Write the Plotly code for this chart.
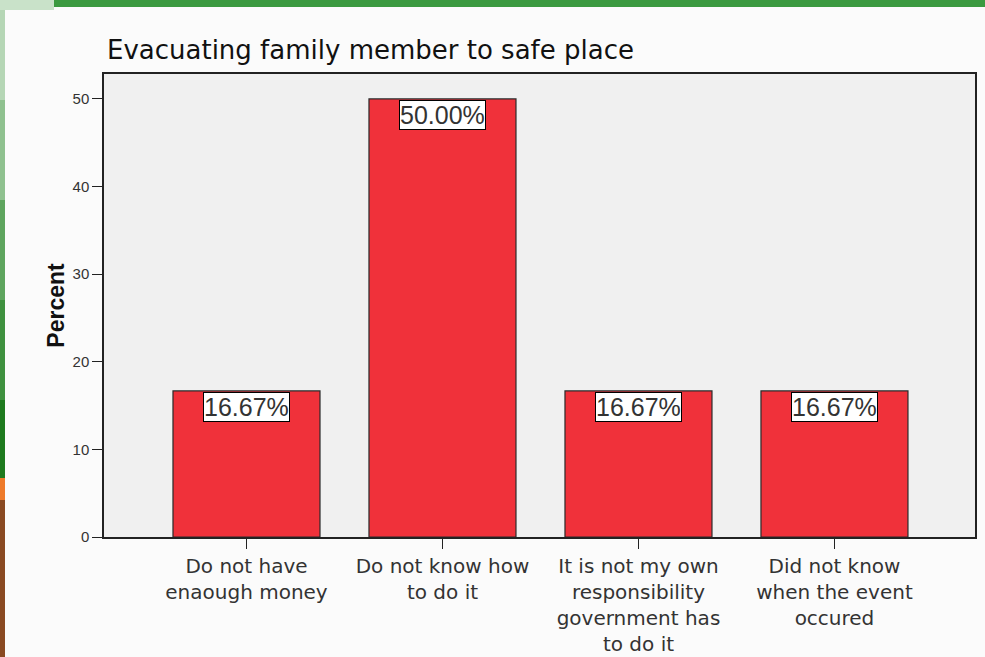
import plotly.graph_objects as go

categories = ["Do not have<br>enaough money", "Do not know how<br>to do it",
              "It is not my own<br>responsibility<br>government has<br>to do it",
              "Did not know<br>when the event<br>occured"]
percent = [16.67, 50.00, 16.67, 16.67]
labels = ["16.67%", "50.00%", "16.67%", "16.67%"]
y_ticks = [0, 10, 20, 30, 40, 50]

x_idx = list(range(len(categories)))

fig = go.Figure()
fig.add_trace(go.Bar(
    x=x_idx, y=percent, width=0.75,
    marker=dict(color="#f0313a", line=dict(color="#2a2a2a", width=1.2)),
    hoverinfo="skip",
))

for xi, v, t in zip(x_idx, percent, labels):
    fig.add_annotation(x=xi, y=v, text=t, showarrow=False, yanchor="top",
                       xanchor="center", yshift=-1,
                       font=dict(family="Liberation Sans, Arial", size=25, color="#333333"),
                       bgcolor="white", bordercolor="black", borderwidth=1, borderpad=0)

# slide decoration
shapes = [
    dict(type="rect", xref="paper", yref="paper", x0=-54/871, x1=1.2, y0=1+74/463, y1=1+67/463,
         fillcolor="#3b9a40", line=dict(width=0), layer="below"),
]
strip = [("#c9e2c9", 0, 10, 0, 54), ("#b5d6b5", 10, 100, 0, 5), ("#8fc18f", 100, 200, 0, 5),
         ("#5ea55e", 200, 300, 0, 5), ("#3f913f", 300, 400, 0, 5), ("#1e7a1e", 400, 478, 0, 5),
         ("#ee7a2a", 478, 500, 0, 5), ("#8a4a22", 500, 657, 0, 5)]
for col, ya, yb, xa, xb in strip:
    shapes.append(dict(type="rect", xref="paper", yref="paper",
                       x0=(xa - 104) / 871, x1=(xb - 104) / 871,
                       y0=(537 - yb) / 463, y1=(537 - ya) / 463,
                       fillcolor=col, line=dict(width=0), layer="below"))

fig.update_layout(
    width=985, height=657,
    margin=dict(l=104, r=10, t=74, b=120),
    paper_bgcolor="#fbfbfb",
    plot_bgcolor="#f0f0f0",
    showlegend=False,
    shapes=shapes,
    title=dict(text="Evacuating family member to safe place", x=107/985, xanchor="left",
               y=1 - 50/657, yanchor="middle", automargin=False,
               font=dict(family="DejaVu Sans", size=26, color="#111111")),
    xaxis=dict(range=[-0.727, 3.717], tickmode="array", tickvals=x_idx, ticktext=categories,
               ticks="outside", ticklen=10, tickcolor="#222", tickwidth=1.2,
               showline=True, linecolor="#222", linewidth=1.5, mirror=True,
               showgrid=False, zeroline=False, automargin=False,
               tickfont=dict(family="DejaVu Sans", size=20, color="#333333")),
    yaxis=dict(range=[0, 52.85], tickmode="array", tickvals=y_ticks,
               ticks="outside", ticklen=10, tickcolor="#222", tickwidth=1.2,
               showline=True, linecolor="#222", linewidth=1.5, mirror=True,
               showgrid=False, zeroline=False, automargin=False,
               title=dict(text="<b>Percent</b>", standoff=2,
                          font=dict(family="Liberation Sans, Arial", size=23, color="#111")),
               tickfont=dict(family="Liberation Sans, Arial", size=15, color="#333333")),
)

fig.write_html("out.html", config={"displayModeBar": False},
               post_script="document.body.style.margin='0';document.body.style.overflow='hidden';")
